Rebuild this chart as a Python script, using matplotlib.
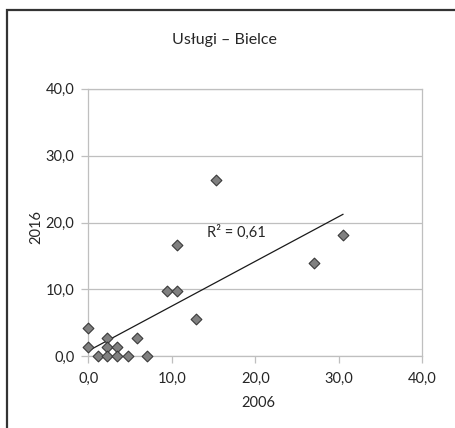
import matplotlib.pyplot as plt
import numpy as np
from matplotlib.patches import Rectangle

plt.rcParams['font.family'] = ['Lato', 'DejaVu Sans']

# values (2006 vs 2016)
x_2006 = [0.0, 0.0, 1.2, 2.3, 2.3, 2.3, 3.5, 3.5, 4.7, 5.8, 7.0,
          9.4, 10.6, 10.6, 12.9, 15.3, 27.0, 30.5]
y_2016 = [4.2, 1.4, 0.0, 2.8, 1.4, 0.0, 1.4, 0.0, 0.0, 2.8, 0.0,
          9.8, 9.8, 16.7, 5.6, 26.4, 13.9, 18.1]
ticks = [0, 10, 20, 30, 40]
tick_labels = ['0,0', '10,0', '20,0', '30,0', '40,0']
title = 'Usługi – Bielce'
r2_label = 'R² = 0,61'

grid_col = '#BFBFBF'
text_col = '#262626'

fig = plt.figure(figsize=(4.55, 4.28), dpi=100)
fig.patch.set_facecolor('white')

# outer chart frame (cut off at the right and bottom in the reference)
fig.add_artist(Rectangle((7 / 455, -0.2), 1.2, 1.2 - 9.5 / 428,
                         transform=fig.transFigure, fill=False,
                         edgecolor='#333333', linewidth=1.6))

ax = fig.add_axes([0.194, 0.1675, 0.734, 0.625])
ax.set_xlim(0, 40)
ax.set_ylim(0, 40)
ax.set_xticks(ticks)
ax.set_xticklabels(tick_labels)
ax.set_yticks(ticks)
ax.set_yticklabels(tick_labels)
ax.yaxis.grid(True, color=grid_col, linewidth=0.9)
ax.set_axisbelow(True)
for sp in ax.spines.values():
    sp.set_color(grid_col)
    sp.set_linewidth(0.9)
ax.tick_params(axis='both', direction='out', length=5, width=0.9,
               color=grid_col, labelsize=10.5, labelcolor=text_col)
ax.tick_params(axis='x', pad=6)
ax.tick_params(axis='y', pad=5)

# linear trend line
coef = np.polyfit(x_2006, y_2016, 1)
xs = np.array([min(x_2006), max(x_2006)])
ax.plot(xs, np.polyval(coef, xs), color='#1a1a1a', linewidth=0.9, zorder=2)

ax.scatter(x_2006, y_2016, marker='D', s=30, facecolor='#808080',
           edgecolor='#3a3a3a', linewidth=0.8, zorder=3, clip_on=False)

ax.text(14.2, 18.6, r2_label, va='center', ha='left', fontsize=10.5,
        color=text_col)

fig.text(0.494, 0.907, title, ha='center', va='center', fontsize=11.5,
         color=text_col)
fig.text(0.568, 0.059, '2006', ha='center', va='center', fontsize=10.5,
         color=text_col)
fig.text(0.079, 0.470, '2016', ha='center', va='center', rotation=90,
         fontsize=10.5, color=text_col)

fig.savefig('out.png', dpi=100)
